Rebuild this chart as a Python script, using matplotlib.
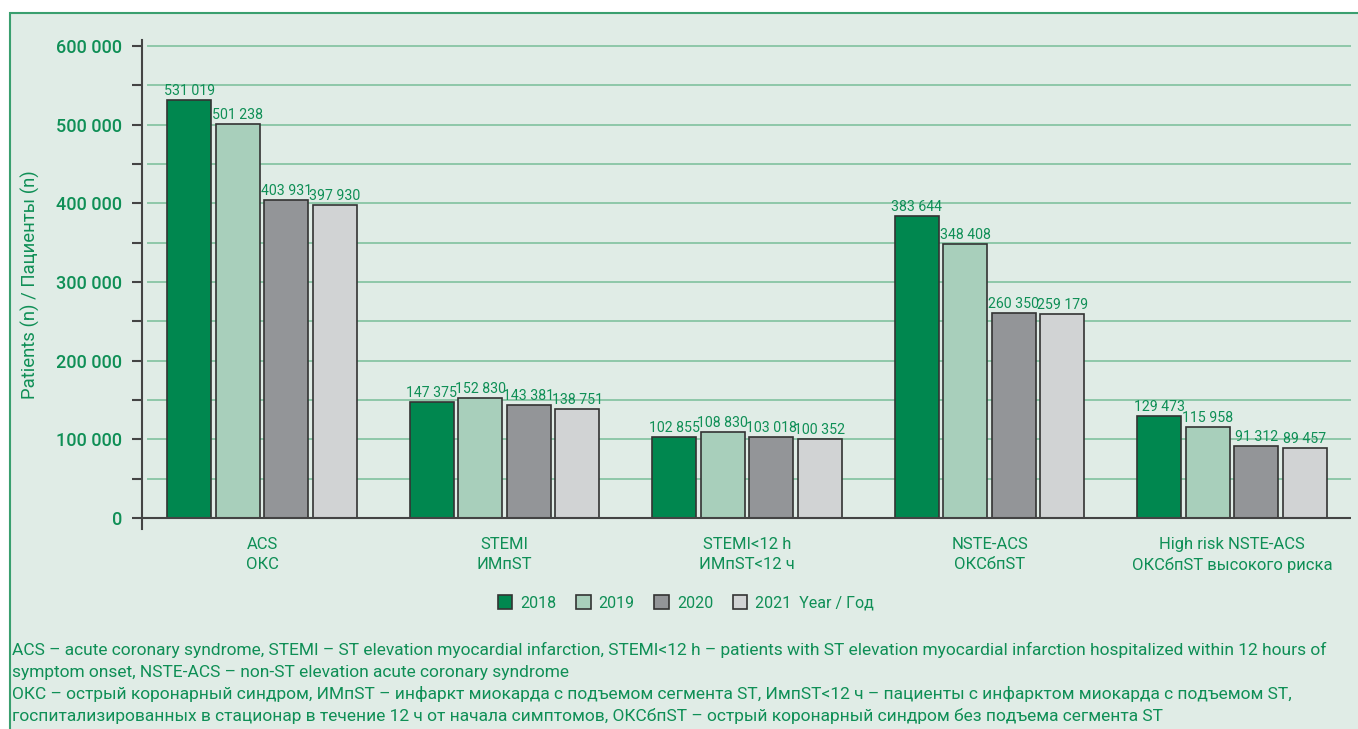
import matplotlib
matplotlib.use("Agg")
import matplotlib.pyplot as plt
import numpy as np
from matplotlib.patches import Rectangle, Patch
from matplotlib.ticker import FuncFormatter, MultipleLocator

plt.rcParams['font.family'] = ['Roboto', 'DejaVu Sans']

categories = ["ACS\nОКС", "STEMI\nИМпST", "STEMI<12 h\nИМпST<12 ч",
              "NSTE-ACS\nОКСбпST", "High risk NSTE-ACS\nОКСбпST высокого риска"]
years = ["2018", "2019", "2020", "2021  Year / Год"]
v2018 = [531019, 147375, 102855, 383644, 129473]
v2019 = [501238, 152830, 108830, 348408, 115958]
v2020 = [403931, 143381, 103018, 260350, 91312]
v2021 = [397930, 138751, 100352, 259179, 89457]
series = [v2018, v2019, v2020, v2021]
colors = ["#00874f", "#a8cfbb", "#939598", "#d1d3d4"]

footnotes = [
    "ACS – acute coronary syndrome, STEMI – ST elevation myocardial infarction, STEMI<12 h – patients with ST elevation myocardial infarction hospitalized within 12 hours of",
    "symptom onset, NSTE-ACS – non-ST elevation acute coronary syndrome",
    "ОКС – острый коронарный синдром, ИМпST – инфаркт миокарда с подъемом сегмента ST, ИмпST<12 ч – пациенты с инфарктом миокарда с подъемом ST,",
    "госпитализированных в стационар в течение 12 ч от начала симптомов, ОКСбпST – острый коронарный синдром без подъема сегмента ST",
]

GREEN = "#0f8f56"
BG = "#e0ece6"
W, H = 1358, 729

fig = plt.figure(figsize=(W / 100, H / 100), dpi=100)
fig.patch.set_facecolor("white")
fig.patches.append(Rectangle((10 / W, -0.1), 1.2, 1.1 - 13 / H, transform=fig.transFigure,
                             facecolor=BG, edgecolor="#3a9f6f", linewidth=1.5, zorder=-5))

ax = fig.add_axes([142 / W, 1 - 529 / H, (1351 - 142) / W, (529 - 40) / H])
ax.set_facecolor("none")

x = np.arange(len(categories))
width = 0.181
step = 0.2
for i, (vals, c) in enumerate(zip(series, colors)):
    pos = x + (i - 1.5) * step
    bars = ax.bar(pos, vals, width=width, color=c, edgecolor="#333333", linewidth=1.2,
                  zorder=3, label=years[i])
    for b, v in zip(bars, vals):
        ax.annotate(f"{v:,}".replace(",", " "), (b.get_x() + b.get_width() / 2, v),
                    xytext=(0, 1.5), textcoords="offset points", ha="center", va="bottom",
                    fontsize=10.2, color=GREEN, zorder=4)

ax.set_xlim(-0.495, 4.49)
ax.set_ylim(-13983, 607627)

for yv in np.arange(50000, 600001, 50000):
    ax.axhline(yv, xmin=0.005, xmax=1, color="#8ec8a9", linewidth=1.4, zorder=1)
ax.axhline(0, color="#444444", linewidth=1.5, zorder=4)

for s in ["top", "right", "bottom"]:
    ax.spines[s].set_visible(False)
ax.spines["left"].set_color("#444444")
ax.spines["left"].set_linewidth(1.5)

ax.yaxis.set_major_locator(MultipleLocator(100000))
ax.yaxis.set_minor_locator(MultipleLocator(50000))
ax.yaxis.set_major_formatter(FuncFormatter(lambda v, p: f"{int(v):,}".replace(",", " ")))
ax.tick_params(axis="y", which="both", length=7.5, width=1.5, color="#444444",
               direction="out", pad=7)
ax.tick_params(axis="y", which="major", labelsize=13, labelcolor=GREEN)
for t in ax.get_yticklabels():
    t.set_fontweight("medium")

ax.set_xticks(x)
ax.set_xticklabels(categories, fontsize=12, color=GREEN, linespacing=1.35)
ax.tick_params(axis="x", length=0, pad=6)

fig.text(30 / W, 1 - 285 / H, "Patients (n) / Пациенты (n)", rotation=90, ha="center",
         va="center", fontsize=13.3, color=GREEN)

handles = [Patch(facecolor=c, edgecolor="#333333", linewidth=1.2) for c in colors]
leg = fig.legend(handles, years, loc="center", bbox_to_anchor=(686 / W, 1 - 603 / H),
                 ncol=4, frameon=False, fontsize=11.5, handlelength=0.9, handleheight=0.9,
                 handletextpad=0.5, columnspacing=1.25)
for t in leg.get_texts():
    t.set_color(GREEN)

for k, line in enumerate(footnotes):
    fig.text(12 / W, 1 - (650 + 22 * k) / H, line, ha="left", va="center",
             fontsize=12.5, color=GREEN)

fig.savefig("out.png", dpi=100, facecolor=fig.get_facecolor())
